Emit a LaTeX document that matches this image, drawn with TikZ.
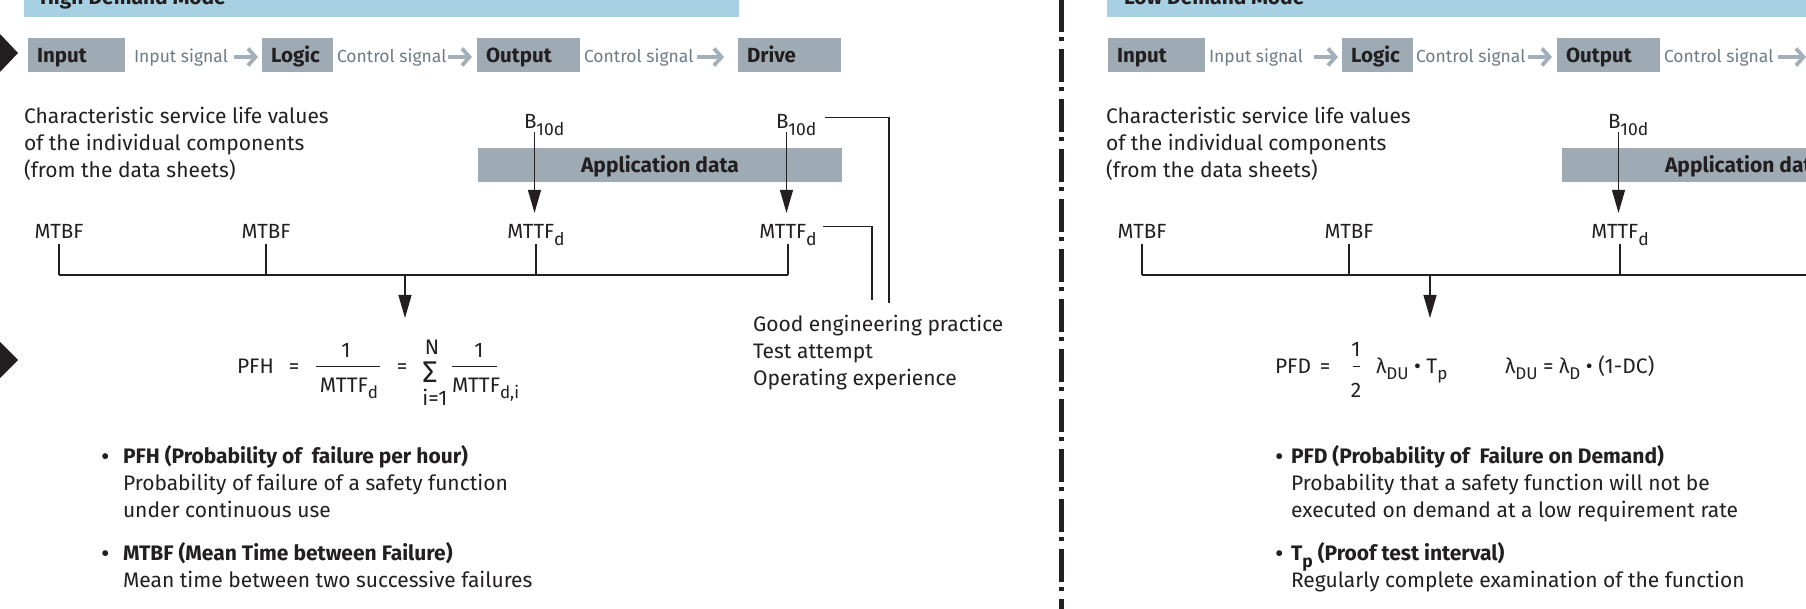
\documentclass[tikz,border=0pt]{standalone}
\usepackage{fontspec}
\setmainfont{Fira Sans}
\usetikzlibrary{arrows.meta}

\definecolor{ink}{HTML}{231F20}
\definecolor{bannerblue}{HTML}{A7D0E3}
\definecolor{stagegray}{HTML}{9EABB5}
\definecolor{signalgray}{HTML}{6E7C87}
\definecolor{arrowgray}{HTML}{A3B0BA}

% lowered subscripts for labels and formulas
\newcommand{\lsub}[1]{\raisebox{-7pt}{\fontsize{17.5}{17.5}\selectfont #1}}
\newcommand{\fsub}[1]{\raisebox{-6pt}{\fontsize{17}{17}\selectfont #1}}
\newcommand{\bigdot}{\raisebox{-2.5pt}{\fontsize{26}{26}\selectfont •}}

\begin{document}
\begin{tikzpicture}[x=1pt, y=-1pt,
  every node/.style={inner sep=0pt, outer sep=0pt, text=ink},
  body/.style={font=\fontsize{21}{27}\selectfont, anchor=base west},
  bodybold/.style={anchor=base west, font=\fontsize{21}{27}\selectfont\bfseries},
  lbl/.style={font=\fontsize{20.5}{24}\selectfont, anchor=base},
  form/.style={font=\fontsize{21}{25}\selectfont, anchor=base},
  banner/.style={fill=bannerblue, anchor=south west, minimum height=40pt},
  bannertext/.style={font=\fontsize{21}{27}\selectfont\bfseries, anchor=base west},
  stagebox/.style={fill=stagegray, anchor=north west, minimum height=34pt, inner xsep=9pt,
    text height=15pt, text depth=0pt, align=left, font=\fontsize{20.5}{24}\selectfont\bfseries},
  signal/.style={anchor=base west, text=signalgray, font=\fontsize{17.5}{22}\selectfont,
    text height=12pt, text depth=0pt},
  sigarrow/.style={draw=arrowgray, line width=3.8pt, -{Straight Barb[length=7.5pt,width=17pt]}},
  appbox/.style={fill=stagegray, anchor=north west, minimum width=364pt, minimum height=34pt,
    text height=15pt, text depth=0pt, font=\fontsize{21}{27}\selectfont\bfseries},
  wire/.style={draw=ink, line width=1.2pt},
  bus/.style={draw=ink, line width=1.6pt},
  fracbar/.style={draw=ink, line width=1pt},
  downarrow/.style={draw=ink, line width=1.2pt, -{Triangle[length=23pt,width=13pt]}},
  divider/.style={draw=ink, line width=5pt, dash pattern=on 33pt off 5pt on 4pt off 8pt, dash phase=0.7pt},
]
\useasboundingbox (0,0) rectangle (1806,609);
\fill[white] (0,0) rectangle (1806,609);
\clip (0,0) rectangle (1806,609);

% ---------------- shared rows ----------------
\coordinate (busy) at (0,275);
\coordinate (nrow) at (0,357);
\coordinate (bar1) at (0,366);

% ================= High demand mode =================
\node[banner, minimum width=715pt] (hiband) at (24,17) {};
\node[bannertext] (hititle) at (40,5) {High Demand Mode};

\fill[ink] (-10,34) -- (0,34) -- (18,53) -- (0,72) -- (-10,72) -- cycle;
\fill[ink] (-10,342) -- (0,342) -- (18,360) -- (0,378) -- (-10,378) -- cycle;

\node[stagebox, text width=79pt] (hin) at (28,38) {Input};
\node[signal] (hs1) at (134,63) {Input signal};
\node[stagebox, text width=53pt] (hlog) at (262,38) {Logic};
\node[signal] (hs2) at (337,63) {Control signal};
\node[stagebox, text width=85pt] (hout) at (477,38) {Output};
\node[signal] (hs3) at (584,63) {Control signal};
\node[stagebox, text width=85pt] (hdrv) at (738,38) {Drive};
\draw[sigarrow] ([xshift=-28pt]hlog.west |- hs1.east) -- ([xshift=-4pt]hlog.west |- hs1.east);
\draw[sigarrow] ([xshift=-29pt]hout.west |- hs2.east) -- ([xshift=-5pt]hout.west |- hs2.east);
\draw[sigarrow] ([xshift=-41pt]hdrv.west |- hs3.east) -- ([xshift=-14pt]hdrv.west |- hs3.east);

\node[body] (hc1) at (24,124) {Characteristic service life values};
\node[body] (hc2) at (24,151) {of the individual components};
\node[body] (hc3) at (24,178) {(from the data sheets)};

\node[appbox] (happ) at (478,148) {Application data};

\node[lbl, anchor=base west] (hb1) at (524,129) {B\lsub{10d}};
\node[lbl, anchor=base west] (hb2) at (776,129) {B\lsub{10d}};

\node[lbl] (hm1) at (59,239) {MTBF};
\node[lbl] (hm2) at (266,239) {MTBF};
\node[lbl] (hm3) at (536,239) {MTTF\lsub{d}};
\node[lbl] (hm4) at (788,239) {MTTF\lsub{d}};

\draw[downarrow, shorten >=12pt] ([xshift=10.5pt,yshift=-3pt]hb1.base west) -- ([xshift=10.5pt]hb1.base west |- hm3.north);
\draw[downarrow, shorten >=12pt] ([xshift=10.5pt,yshift=-3pt]hb2.base west) -- ([xshift=10.5pt]hb2.base west |- hm4.north);

\foreach \m in {hm1,hm2,hm3,hm4}
  \draw[wire] ([yshift=-5pt]\m.base) -- (\m.base |- busy);
\draw[bus] (hm1.base |- busy) -- (hm4.base |- busy);

\coordinate (hpfhtip) at (405,318);
\draw[downarrow] (hpfhtip |- busy) -- (hpfhtip);

\node[body] (hg1) at (753,331) {Good engineering practice};
\node[body] (hg2) at (753,358) {Test attempt};
\node[body] (hg3) at (753,385) {Operating experience};
\coordinate (hgin1) at (872,300);
\coordinate (hgin2) at (889,303);
\draw[wire] ([xshift=6pt,yshift=-2pt]hm4.north east) -| (hgin1);
\draw[wire] ([xshift=9pt,yshift=-3pt]hb2.north east) -| (hgin2);

% PFH formula
\node[form, anchor=base west] (pfh) at (237,373) {PFH};
\node[form] (heq1) at (294,373) {=};
\node[form] (hd1) at (349,392) {MTTF\fsub{d}};
\node[form] (hn1) at ([xshift=-3pt]hd1.base |- nrow) {1};
\draw[fracbar] ([xshift=-4pt]hd1.west |- bar1) -- ([xshift=2pt]hd1.east |- bar1);
\node[form] (heq2) at (402,373) {=};
\node[form, font=\fontsize{30}{30}\selectfont] (hsum) at (430,382) {Σ};
\node[form] (hsumN) at (432,355) {N};
\node[form] (hsumi) at (435,405) {i=1};
\node[form, anchor=base west] (hd2) at (452,392) {MTTF\fsub{d,i}};
\node[form] (hn2) at ([xshift=27pt]hd2.base west |- nrow) {1};
\draw[fracbar] (hd2.west |- bar1) -- ([xshift=45pt]hd2.west |- bar1);

% explanations
\node[body, anchor=base west] (hbul1) at (101,463) {\bigdot};
\node[bodybold] (ht1) at (123,463) {PFH (Probability of\ \ failure per hour)};
\node[body] (ht2) at (123,490) {Probability of failure of a safety function};
\node[body] (ht3) at (123,517) {under continuous use};
\node[body, anchor=base west] (hbul2) at (101,560) {\bigdot};
\node[bodybold] (ht4) at (123,560) {MTBF (Mean Time between Failure)};
\node[body] (ht5) at (123,587) {Mean time between two successive failures};

% ================= divider =================
\coordinate (divtop) at (1061,0);
\coordinate (divbot) at (1061,609);
\draw[divider] (divtop) -- (divbot);

% ================= Low demand mode =================
\node[banner, minimum width=760pt] (loband) at (1107,17) {};
\node[bannertext] (lotitle) at (1124,5) {Low Demand Mode};

\node[stagebox, text width=79pt] (lin) at (1108,38) {Input};
\node[signal] (ls1) at (1209,63) {Input signal};
\node[stagebox, text width=53pt] (llog) at (1342,38) {Logic};
\node[signal] (ls2) at (1416,63) {Control signal};
\node[stagebox, text width=85pt] (lout) at (1557,38) {Output};
\node[signal] (ls3) at (1664,63) {Control signal};
\node[stagebox, text width=85pt] (ldrv) at (1820,38) {Drive};
\draw[sigarrow] ([xshift=-28pt]llog.west |- ls1.east) -- ([xshift=-4pt]llog.west |- ls1.east);
\draw[sigarrow] ([xshift=-29pt]lout.west |- ls2.east) -- ([xshift=-5pt]lout.west |- ls2.east);
\draw[sigarrow] ([xshift=-42pt]ldrv.west |- ls3.east) -- ([xshift=-14pt]ldrv.west |- ls3.east);

\node[body] (lc1) at (1106,124) {Characteristic service life values};
\node[body] (lc2) at (1106,151) {of the individual components};
\node[body] (lc3) at (1106,178) {(from the data sheets)};

\node[appbox] (lapp) at (1562,148) {Application data};
\node[lbl, anchor=base west] (lb1) at (1608,129) {B\lsub{10d}};

\node[lbl] (lm1) at (1142,239) {MTBF};
\node[lbl] (lm2) at (1349,239) {MTBF};
\node[lbl] (lm3) at (1620,239) {MTTF\lsub{d}};

\draw[downarrow, shorten >=12pt] ([xshift=10.5pt,yshift=-3pt]lb1.base west) -- ([xshift=10.5pt]lb1.base west |- lm3.north);

\foreach \m in {lm1,lm2,lm3}
  \draw[wire] ([yshift=-5pt]\m.base) -- (\m.base |- busy);
\coordinate (lbusend) at (1830,275);
\draw[bus] (lm1.base |- busy) -- (lbusend);

\coordinate (lpfdtip) at (1430,318);
\draw[downarrow] (lpfdtip |- busy) -- (lpfdtip);

% PFD formula
\node[form] (pfd) at (1293,373) {PFD};
\node[form] (leq1) at (1325,373) {=};
\node[form] (lh1) at (1356,356) {1};
\node[form] (lh2) at (1356,397) {2};
\draw[fracbar] ([xshift=-3.5pt]lh1.base |- bar1) -- ([xshift=3.5pt]lh1.base |- bar1);
\node[form, anchor=base west] (lprod) at (1376,373) {λ\fsub{DU} • T\fsub{p}};
\node[form, anchor=base west] (ldu) at (1505,373) {λ\fsub{DU} = λ\fsub{D} • (1-DC)};

% explanations
\node[body, anchor=base west] (lbul1) at (1275,463) {\bigdot};
\node[bodybold] (lt1) at (1291,463) {PFD (Probability of\ \ Failure on Demand)};
\node[body] (lt2) at (1291,490) {Probability that a safety function will not be};
\node[body] (lt3) at (1291,517) {executed on demand at a low requirement rate};
\node[body, anchor=base west] (lbul2) at (1275,560) {\bigdot};
\node[bodybold] (lt4) at (1291,560) {T\lsub{p} (Proof test interval)};
\node[body] (lt5) at (1291,587) {Regularly complete examination of the function};
\end{tikzpicture}
\end{document}
